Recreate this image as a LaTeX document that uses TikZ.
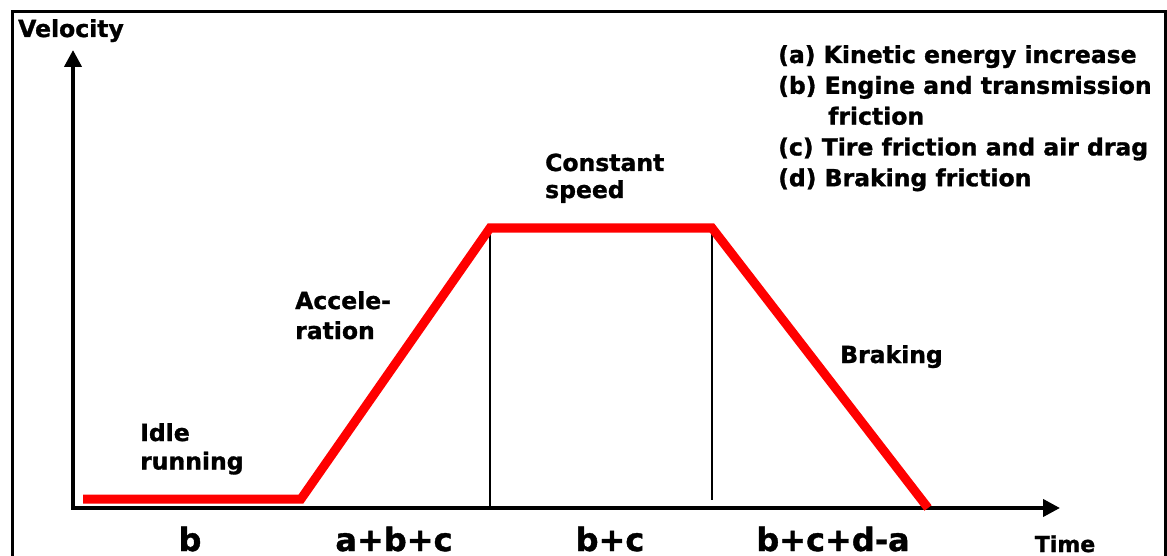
\documentclass[tikz,border=0pt]{standalone}
\usepackage{fontspec}
\setmainfont{DejaVu Sans}[BoldFeatures={FakeBold=1.2}]
\usetikzlibrary{arrows.meta}
\begin{document}
\begin{tikzpicture}[x=1pt,y=-1pt,
  frame/.style={line width=3pt},
  axis/.style={line width=4pt,{Triangle[width=17pt,length=17pt]}-{Triangle[width=17pt,length=17pt]}},
  guide/.style={line width=1.5pt},
  curve/.style={line width=9pt,red,line join=miter},
  lbl/.style={inner sep=0pt,font=\fontsize{23.5}{29}\bfseries\selectfont},
  big/.style={inner sep=0pt,font=\fontsize{32}{36}\bfseries\selectfont}
]
\useasboundingbox (0,0) rectangle (1167,556);
\fill[white] (0,0) rectangle (1167,556);
% frame
\coordinate (fbl) at (12,560);
\coordinate (ftl) at (12,12);
\coordinate (ftr) at (1165,12);
\coordinate (fbr) at (1165,560);
\draw[frame] (fbl) -- (ftl) -- (ftr) -- (fbr);
% axes
\coordinate (ytop) at (73,50);
\coordinate (xend) at (1060,508);
\draw[axis] (ytop) |- (xend);
% key points of the curve
\coordinate (p0) at (83,499);
\coordinate (p1) at (301,499);
\coordinate (p2) at (490,228);
\coordinate (p3) at (712,228);
\coordinate (p4) at (928,508);
\coordinate (g2) at (490,506);
\coordinate (g3) at (712,500);
\draw[guide] (p2) -- (g2);
\draw[guide] (p3) -- (g3);
\draw[curve] (p0) -- (p1) -- (p2) -- (p3) -- (p4);
% labels
\node[lbl,anchor=base west] (vel) at (18,37) {Velocity};
\node[lbl,anchor=base west] (leg) at (778,63) {\fontsize{23.5}{30.8}\selectfont\begin{tabular}[t]{@{}l@{}}(a) Kinetic energy increase\\(b) Engine and transmission\\\hspace{50pt}friction\\(c) Tire friction and air drag\\(d) Braking friction\end{tabular}};
\node[lbl,anchor=base west] (const) at (545,171) {\fontsize{23.5}{27}\selectfont\begin{tabular}[t]{@{}l@{}}Constant\\speed\end{tabular}};
\node[lbl,anchor=base west] (acc) at (295,309) {\fontsize{23.5}{30}\selectfont\begin{tabular}[t]{@{}l@{}}Accele-\\ration\end{tabular}};
\node[lbl,anchor=base west] (idle) at (140,441) {\fontsize{23.5}{28.5}\selectfont\begin{tabular}[t]{@{}l@{}}Idle\\running\end{tabular}};
\node[lbl,anchor=base west] (brk) at (840,363) {Braking};
\node[big,anchor=base] (lb1) at (190,551) {b};
\node[big,anchor=base] (lb2) at (394,551) {a+b+c};
\node[big,anchor=base] (lb3) at (610,551) {b+c};
\node[big,anchor=base] (lb4) at (833,551) {b+c+d-a};
\node[lbl,font=\fontsize{22}{26}\bfseries\selectfont,anchor=base] (time) at (1065,552) {Time};
\end{tikzpicture}
\end{document}
